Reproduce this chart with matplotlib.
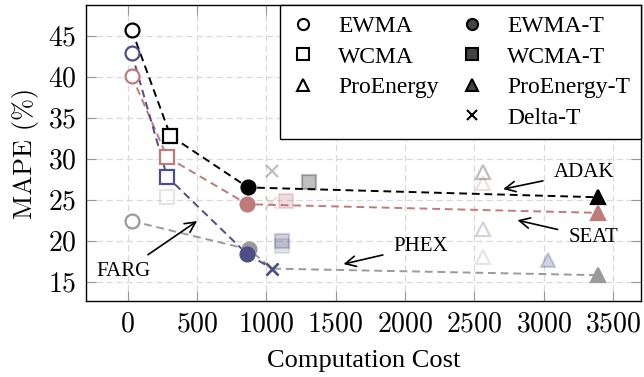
import numpy as np
import matplotlib
matplotlib.use("Agg")
import matplotlib.pyplot as plt
from matplotlib.lines import Line2D

plt.rcParams['font.family'] = ['Liberation Serif', 'DejaVu Serif']
plt.rcParams['axes.formatter.use_mathtext'] = True

# methods, in the same order for every dataset
methods = ["EWMA", "WCMA", "ProEnergy", "EWMA-T", "WCMA-T", "ProEnergy-T", "Delta-T"]
markers = ["o", "s", "^", "o", "s", "^", "x"]
filled = [False, False, False, True, True, True, True]

# computation cost / MAPE per dataset
adak_cost = [30, 309, 2559, 868, 1311, 3393, 1043]
adak_mape = [45.7, 32.8, 28.4, 26.5, 27.2, 25.3, 28.5]
adak_front = ["EWMA", "WCMA", "EWMA-T", "ProEnergy-T"]

seat_cost = [30, 285, 2559, 863, 1139, 3393, 1036]
seat_mape = [40.1, 30.2, 27.0, 24.45, 24.8, 23.4, 24.55]
seat_front = ["EWMA", "WCMA", "EWMA-T", "ProEnergy-T"]

farg_cost = [30, 285, 2559, 863, 1115, 3033, 1043]
farg_mape = [42.85, 27.8, 21.4, 18.35, 20.0, 17.7, 16.6]
farg_front = ["EWMA", "WCMA", "EWMA-T", "Delta-T"]

phex_cost = [30, 285, 2559, 873, 1115, 3393, 1043]
phex_mape = [22.4, 25.3, 18.0, 18.95, 19.4, 15.8, 16.6]
phex_front = ["EWMA", "EWMA-T", "Delta-T", "ProEnergy-T"]

datasets = [
    ("PHEX", phex_cost, phex_mape, phex_front, "#9a9a9a"),
    ("SEAT", seat_cost, seat_mape, seat_front, "#c07a7a"),
    ("FARG", farg_cost, farg_mape, farg_front, "#4d4d8a"),
    ("ADAK", adak_cost, adak_mape, adak_front, "black"),
]

fig = plt.figure(figsize=(6.44, 3.77), dpi=100)
ax = fig.add_axes([0.1335, 0.2016, 0.8618, 0.7851])

# faded (dominated) points first
for name, cost, mape, front, col in datasets:
    for i, m in enumerate(methods):
        if m in front:
            continue
        fc = col if filled[i] else "white"
        if markers[i] == "x":
            ax.plot(cost[i], mape[i], "x", color=col, ms=9, mew=1.6, alpha=0.25, zorder=2)
        else:
            ax.plot(cost[i], mape[i], markers[i], mfc=fc, mec=col, ms=10, mew=1.6,
                    alpha=0.25, zorder=2)

# pareto fronts
for name, cost, mape, front, col in datasets:
    idx = [methods.index(m) for m in front]
    idx = sorted(idx, key=lambda k: cost[k])
    xs = [cost[k] for k in idx]
    ys = [mape[k] for k in idx]
    ax.plot(xs, ys, color=col, lw=1.4, ls=(0, (4, 2.5)), zorder=3)
    for k in idx:
        fc = col if filled[k] else "white"
        if markers[k] == "x":
            ax.plot(cost[k], mape[k], "x", color=col, ms=9, mew=1.8, zorder=4)
        else:
            ax.plot(cost[k], mape[k], markers[k], mfc=fc, mec=col, ms=10, mew=1.6, zorder=4)

ax.set_xlim(-300, 3700)
ax.set_ylim(12.65, 48.75)
ax.set_xticks(np.arange(0, 3501, 500))
ax.set_yticks(np.arange(15, 46, 5))
ax.grid(True, color="#d9d9d9", ls=(0, (5, 3)), lw=0.9)
ax.set_axisbelow(True)
ax.tick_params(direction="in", length=7, color="#999999", top=True, right=True,
               labelsize=20, pad=7)
for lab in ax.get_xticklabels() + ax.get_yticklabels():
    lab.set_family("cmr10")
for s in ax.spines.values():
    s.set_linewidth(1.0)

ax.set_xlabel("Computation Cost", fontsize=19, labelpad=9)
ax.set_ylabel("MAPE (%)", fontsize=19, family="cmr10", labelpad=6)

# annotations
arrow = dict(arrowstyle="->,head_length=0.5,head_width=0.25", lw=1.2, color="black",
             shrinkA=6, shrinkB=0)
ax.annotate("ADAK", xy=(2707, 26.3), xytext=(3290, 28.34), ha="center", va="center",
            fontsize=15, arrowprops=arrow)
ax.annotate("SEAT", xy=(2810, 22.5), xytext=(3357, 20.37), ha="center", va="center",
            fontsize=15, arrowprops=arrow)
ax.annotate("PHEX", xy=(1556, 17.15), xytext=(2115, 19.35), ha="center", va="center",
            fontsize=15, arrowprops=arrow)
ax.annotate("FARG", xy=(501, 22.4), xytext=(-32, 16.22), ha="center", va="center",
            fontsize=15, arrowprops=arrow)

# legend
def h(marker, fc, ms=8):
    return Line2D([], [], ls="none", marker=marker, mfc=fc, mec="black", color="black",
                  ms=ms, mew=1.5)

handles = [h("o", "white"), h("s", "white"), h("^", "white"),
           Line2D([], [], ls="none"),
           h("o", "#444444"), h("s", "#444444"), h("^", "#444444"),
           h("x", "black", 7)]
labels = ["EWMA", "WCMA", "ProEnergy", "", "EWMA-T", "WCMA-T", "ProEnergy-T", "Delta-T"]
leg = ax.legend(handles, labels, ncol=2, loc="upper right", fontsize=17,
                borderaxespad=0, fancybox=False, edgecolor="black", framealpha=1,
                handlelength=1.0, handletextpad=1.0, columnspacing=0.9,
                labelspacing=0.38, borderpad=0.45)
leg.get_frame().set_linewidth(1.0)
leg.set_zorder(5)

fig.savefig("out.png", dpi=100)
